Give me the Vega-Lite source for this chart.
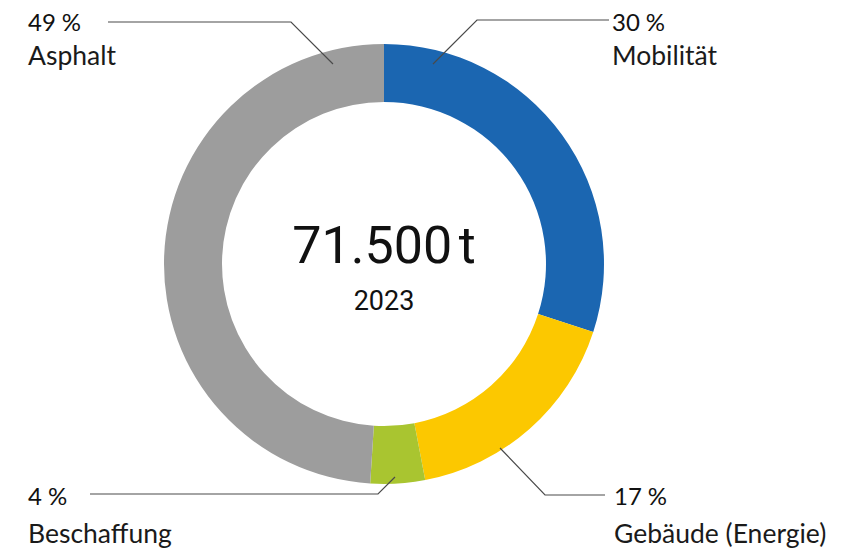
{
  "$schema": "https://vega.github.io/schema/vega-lite/v6.json",
  "width": 848,
  "height": 550,
  "padding": 0,
  "autosize": {"type": "fit", "contains": "padding"},
  "background": "white",
  "config": {"view": {"stroke": null}},
  "datasets": {
    "shares": [
      {"sector": "Mobilität", "order": 1, "share": 30},
      {"sector": "Gebäude (Energie)", "order": 2, "share": 17},
      {"sector": "Beschaffung", "order": 3, "share": 4},
      {"sector": "Asphalt", "order": 4, "share": 49}
    ],
    "leaders": [
      {"seg": "Asphalt", "i": 0, "x": -276, "y": 242},
      {"seg": "Asphalt", "i": 1, "x": -93, "y": 242},
      {"seg": "Asphalt", "i": 2, "x": -51, "y": 200},
      {"seg": "Mobilität", "i": 0, "x": 49, "y": 200},
      {"seg": "Mobilität", "i": 1, "x": 93, "y": 244},
      {"seg": "Mobilität", "i": 2, "x": 225, "y": 244},
      {"seg": "Gebäude", "i": 0, "x": 116, "y": -184},
      {"seg": "Gebäude", "i": 1, "x": 161, "y": -231},
      {"seg": "Gebäude", "i": 2, "x": 221, "y": -231},
      {"seg": "Beschaffung", "i": 0, "x": -294, "y": -230},
      {"seg": "Beschaffung", "i": 1, "x": -6, "y": -230},
      {"seg": "Beschaffung", "i": 2, "x": 11, "y": -213}
    ],
    "pcts": [
      {"t": "49\u202f%", "x": -356, "y": 233},
      {"t": "30\u202f%", "x": 228, "y": 233},
      {"t": "4\u202f%", "x": -356, "y": -241},
      {"t": "17\u202f%", "x": 230, "y": -241}
    ],
    "names": [
      {"t": "Asphalt", "x": -356, "y": 199},
      {"t": "Mobilität", "x": 228, "y": 199},
      {"t": "Beschaffung", "x": -356, "y": -279},
      {"t": "Gebäude (Energie)", "x": 230, "y": -279}
    ],
    "center": [
      {"t": "71.500\u202ft", "x": 0, "y": 1, "kind": "big"},
      {"t": "2023", "x": 0, "y": -46, "kind": "small"}
    ]
  },
  "layer": [
    {
      "data": {"name": "shares"},
      "mark": {"type": "arc", "outerRadius": 220, "innerRadius": 162},
      "encoding": {
        "x": {"datum": 0, "type": "quantitative", "scale": {"domain": [-384, 464], "nice": false, "zero": false}, "axis": null},
        "y": {"datum": 0, "type": "quantitative", "scale": {"domain": [-286, 264], "nice": false, "zero": false}, "axis": null},
        "theta": {"field": "share", "type": "quantitative", "stack": true},
        "order": {"field": "order", "type": "quantitative"},
        "color": {
          "field": "sector",
          "type": "nominal",
          "scale": {
            "domain": ["Mobilität", "Gebäude (Energie)", "Beschaffung", "Asphalt"],
            "range": ["#1b66b1", "#fcc800", "#a9c530", "#9d9d9d"]
          },
          "legend": null
        }
      }
    },
    {
      "data": {"name": "leaders"},
      "mark": {"type": "line", "stroke": "#4a4a4a", "strokeWidth": 1.2},
      "encoding": {
        "x": {"field": "x", "type": "quantitative", "scale": {"domain": [-384, 464], "nice": false, "zero": false}, "axis": null},
        "y": {"field": "y", "type": "quantitative", "scale": {"domain": [-286, 264], "nice": false, "zero": false}, "axis": null},
        "detail": {"field": "seg"},
        "order": {"field": "i", "type": "quantitative"}
      }
    },
    {
      "data": {"name": "pcts"},
      "mark": {"type": "text", "align": "left", "baseline": "alphabetic", "font": "Lato", "fontSize": 24, "color": "#111111"},
      "encoding": {
        "x": {"field": "x", "type": "quantitative"},
        "y": {"field": "y", "type": "quantitative"},
        "text": {"field": "t"}
      }
    },
    {
      "data": {"name": "names"},
      "mark": {"type": "text", "align": "left", "baseline": "alphabetic", "font": "Lato", "fontSize": 26.5, "color": "#1a1a1a"},
      "encoding": {
        "x": {"field": "x", "type": "quantitative"},
        "y": {"field": "y", "type": "quantitative"},
        "text": {"field": "t"}
      }
    },
    {
      "data": {"name": "center"},
      "mark": {"type": "text", "align": "center", "baseline": "alphabetic", "font": "Roboto", "color": "#111111"},
      "encoding": {
        "x": {"field": "x", "type": "quantitative"},
        "y": {"field": "y", "type": "quantitative"},
        "text": {"field": "t"},
        "size": {
          "field": "kind",
          "type": "nominal",
          "scale": {"domain": ["big", "small"], "range": [52, 27]},
          "legend": null
        }
      }
    }
  ]
}
